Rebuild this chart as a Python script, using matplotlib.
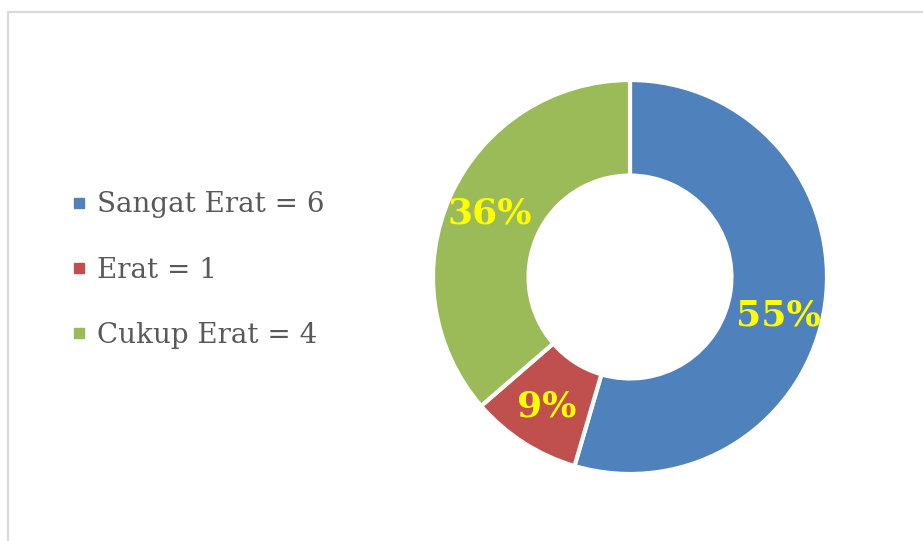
import matplotlib.pyplot as plt
from matplotlib.patches import Rectangle
from matplotlib.lines import Line2D

# data
categories = ['Sangat Erat', 'Erat', 'Cukup Erat']
counts = [6, 1, 4]
colors = ['#4F81BD', '#C0504D', '#9BBB59']

plt.rcParams['font.family'] = ['DejaVu Serif']

fig = plt.figure(figsize=(9.23, 5.41), dpi=100)

# chart area frame
fig.patches.append(Rectangle((8 / 923, -0.05), 1.0, 1 - 12 / 541 + 0.05,
                             transform=fig.transFigure, fill=False,
                             edgecolor='#d9d9d9', linewidth=1.5))

# donut axes, centre at about (630, 277) px
cx, cy, r = 630, 541 - 277, 197
ax = fig.add_axes([(cx - r) / 923, (cy - r) / 541, 2 * r / 923, 2 * r / 541])

wedges, _, autotexts = ax.pie(
    counts, colors=colors, startangle=90, counterclock=False, radius=1,
    autopct='%1.0f%%', pctdistance=0.78,
    wedgeprops=dict(width=0.485, edgecolor='white', linewidth=3),
    textprops=dict(color='#FFFF00', fontsize=26, fontweight='bold'))
ax.set_xlim(-1, 1)
ax.set_ylim(-1, 1)
ax.set_aspect('equal')
ax.axis('off')

# Excel puts the big label a bit lower than the wedge middle
x, y = autotexts[0].get_position()
autotexts[0].set_position((x - 0.02, y - 0.085))

handles = [Line2D([], [], marker='s', linestyle='none', markersize=7,
                  markerfacecolor=c, markeredgecolor=c) for c in colors]
labels = [f'{c} = {n}' for c, n in zip(categories, counts)]
fig.legend(handles, labels, loc='center left', bbox_to_anchor=(57 / 923, 1 - 270 / 541),
           frameon=False, fontsize=20, labelcolor='#595959', handlelength=0.6,
           handletextpad=0.35, labelspacing=1.37, borderpad=0)

fig.savefig('out.png', dpi=100)
